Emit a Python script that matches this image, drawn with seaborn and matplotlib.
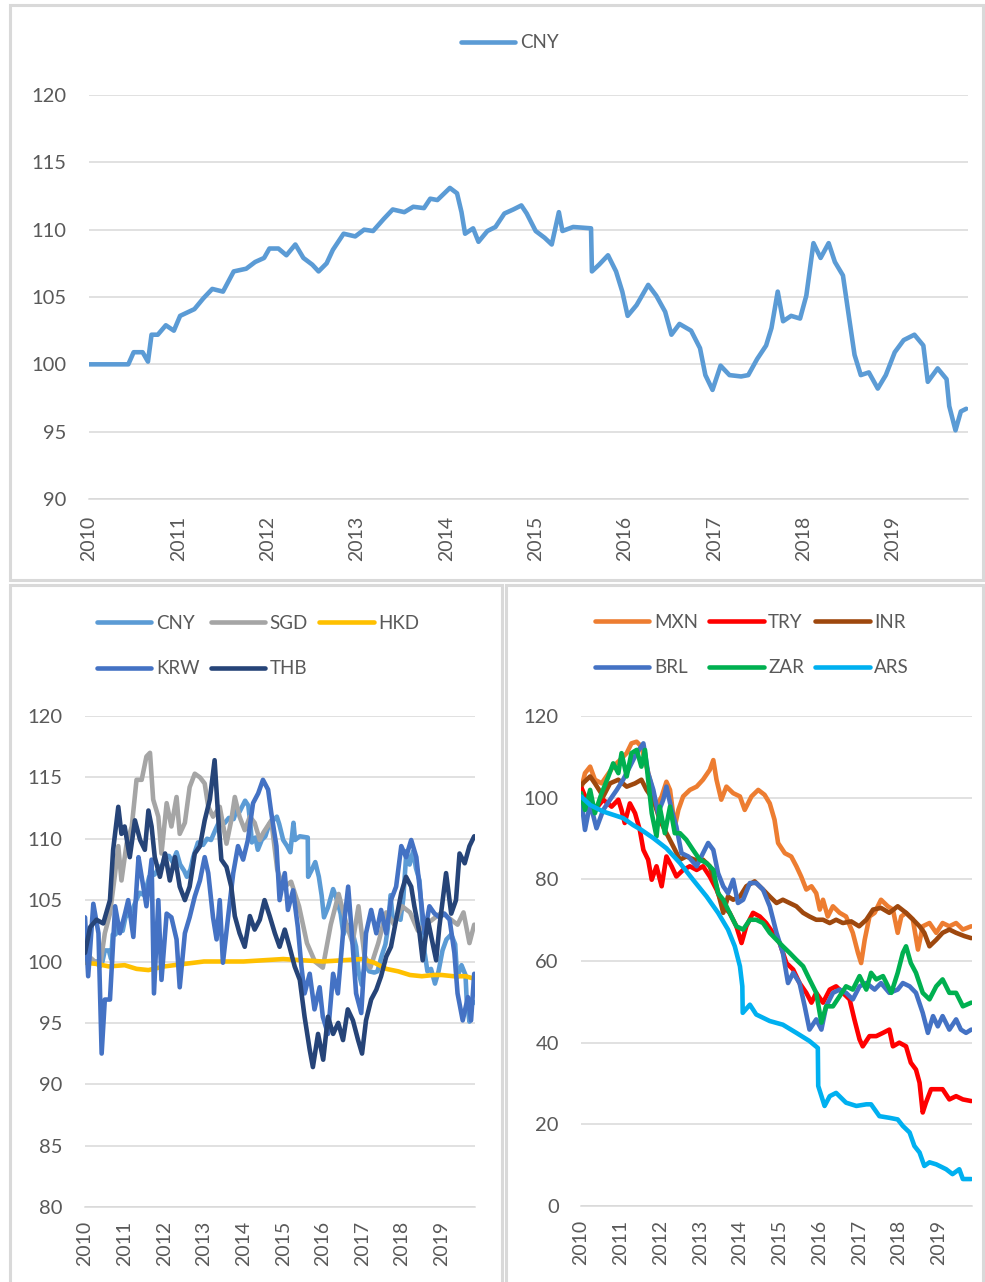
import matplotlib
matplotlib.use("Agg")
import matplotlib.pyplot as plt
import seaborn as sns
from matplotlib.patches import Rectangle

# ---- data (decimal years, index levels) ----
cny_t = [2010.0, 2010.44, 2010.5, 2010.6, 2010.66, 2010.7, 2010.77, 2010.86, 2010.95, 2011.02,
         2011.18, 2011.28, 2011.38, 2011.5, 2011.62, 2011.76, 2011.86, 2011.96, 2012.02, 2012.12,
         2012.21, 2012.31, 2012.4, 2012.5, 2012.57, 2012.66, 2012.73, 2012.85, 2012.98, 2013.08,
         2013.18, 2013.3, 2013.4, 2013.53, 2013.63, 2013.75, 2013.82, 2013.9, 2014.04, 2014.12,
         2014.17, 2014.21, 2014.3, 2014.36, 2014.46, 2014.55, 2014.65, 2014.75, 2014.84, 2014.9,
         2015.0, 2015.1, 2015.18, 2015.22, 2015.26, 2015.3, 2015.42, 2015.62, 2015.63, 2015.71,
         2015.81, 2015.9, 2015.97, 2016.03, 2016.13, 2016.26, 2016.35, 2016.45, 2016.52, 2016.61,
         2016.74, 2016.84, 2016.9, 2016.98, 2017.07, 2017.17, 2017.3, 2017.38, 2017.48, 2017.58,
         2017.64, 2017.71, 2017.77, 2017.86, 2017.96, 2018.03, 2018.11, 2018.19, 2018.28, 2018.35,
         2018.44, 2018.51, 2018.57, 2018.64, 2018.73, 2018.83, 2018.92, 2019.02, 2019.12, 2019.24,
         2019.34, 2019.39, 2019.5, 2019.6, 2019.63, 2019.7, 2019.76, 2019.82]
cny_v = [100.0, 100.0, 100.9, 100.9, 100.2, 102.2, 102.2, 102.9, 102.5, 103.6,
         104.1, 104.9, 105.6, 105.4, 106.9, 107.1, 107.6, 107.9, 108.6, 108.6,
         108.1, 108.9, 107.9, 107.4, 106.9, 107.5, 108.5, 109.7, 109.5, 110.0,
         109.9, 110.8, 111.5, 111.3, 111.7, 111.6, 112.3, 112.2, 113.1, 112.7,
         111.3, 109.7, 110.1, 109.1, 109.9, 110.2, 111.2, 111.5, 111.8, 111.2,
         109.9, 109.4, 108.9, 110.1, 111.3, 109.9, 110.2, 110.1, 106.9, 107.4,
         108.1, 106.9, 105.4, 103.6, 104.4, 105.9, 105.1, 103.9, 102.2, 103.0,
         102.5, 101.2, 99.2, 98.1, 99.9, 99.2, 99.1, 99.2, 100.4, 101.4,
         102.7, 105.4, 103.2, 103.6, 103.4, 105.1, 109.0, 107.9, 109.0, 107.6,
         106.6, 103.4, 100.7, 99.2, 99.4, 98.2, 99.2, 100.9, 101.8, 102.2,
         101.4, 98.7, 99.7, 98.9, 96.9, 95.1, 96.5, 96.7]

sgd_t = [2010.0, 2010.21, 2010.38, 2010.5, 2010.63, 2010.76, 2010.84, 2010.92, 2011.05, 2011.18,
         2011.3, 2011.43, 2011.55, 2011.64, 2011.72, 2011.85, 2011.93, 2012.06, 2012.18, 2012.31,
         2012.39, 2012.52, 2012.64, 2012.77, 2012.9, 2013.02, 2013.11, 2013.23, 2013.4, 2013.57,
         2013.69, 2013.78, 2013.9, 2014.03, 2014.16, 2014.28, 2014.41, 2014.5, 2014.7, 2014.85,
         2015.0, 2015.2, 2015.4, 2015.6, 2015.8, 2016.0, 2016.2, 2016.4, 2016.6, 2016.75,
         2016.9, 2017.05, 2017.2, 2017.4, 2017.6, 2017.8, 2018.0, 2018.2, 2018.4, 2018.6,
         2018.8, 2019.0, 2019.2, 2019.4, 2019.55, 2019.7, 2019.82]
sgd_v = [100.7, 100.1, 99.6, 102.3, 103.9, 107.2, 109.4, 106.6, 109.6, 111.0,
         114.8, 114.8, 116.7, 117.0, 113.2, 111.8, 108.8, 112.9, 111.0, 113.4,
         110.4, 111.3, 114.2, 115.3, 115.0, 114.5, 112.6, 111.8, 112.6, 109.6,
         111.5, 113.4, 111.8, 110.7, 111.8, 111.3, 109.9, 110.5, 111.5, 107.5,
         106.0, 106.5, 104.5, 101.5, 100.0, 99.5, 103.0, 105.5, 103.0, 101.5,
         104.5, 100.5, 99.5, 101.5, 104.0, 103.0, 104.5, 104.0, 102.5, 103.0,
         103.5, 104.0, 103.5, 103.0, 104.0, 101.5, 103.0]

hkd_t = [2010.0, 2010.3, 2010.6, 2011.0, 2011.3, 2011.6, 2012.0, 2012.5, 2013.0, 2013.5,
         2014.0, 2014.5, 2015.0, 2015.5, 2016.0, 2016.5, 2017.0, 2017.3, 2017.6, 2017.9,
         2018.2, 2018.5, 2018.8, 2019.0, 2019.3, 2019.6, 2019.82]
hkd_v = [99.9, 99.8, 99.6, 99.7, 99.4, 99.3, 99.6, 99.8, 100.0, 100.0,
         100.0, 100.1, 100.2, 100.1, 100.0, 100.1, 100.2, 99.9, 99.4, 99.2,
         98.9, 98.8, 98.9, 98.9, 98.8, 98.8, 98.6]

krw_t = [2010.0, 2010.08, 2010.21, 2010.34, 2010.42, 2010.5, 2010.63, 2010.76, 2010.88, 2011.01,
         2011.09, 2011.22, 2011.35, 2011.43, 2011.55, 2011.68, 2011.74, 2011.85, 2011.93, 2012.06,
         2012.18, 2012.31, 2012.39, 2012.52, 2012.64, 2012.77, 2012.9, 2013.02, 2013.11, 2013.23,
         2013.32, 2013.4, 2013.48, 2013.61, 2013.74, 2013.86, 2013.99, 2014.11, 2014.24, 2014.37,
         2014.49, 2014.62, 2014.7, 2014.83, 2014.91, 2015.04, 2015.12, 2015.25, 2015.37, 2015.46,
         2015.54, 2015.67, 2015.79, 2015.92, 2016.0, 2016.13, 2016.26, 2016.38, 2016.51, 2016.64,
         2016.72, 2016.84, 2016.97, 2017.09, 2017.22, 2017.35, 2017.47, 2017.6, 2017.72, 2017.85,
         2017.98, 2018.1, 2018.23, 2018.36, 2018.44, 2018.57, 2018.69, 2018.82, 2018.95, 2019.07,
         2019.2, 2019.32, 2019.4, 2019.53, 2019.66, 2019.74, 2019.82]
krw_v = [103.6, 98.8, 104.7, 102.3, 92.5, 96.9, 96.9, 104.5, 102.3, 103.9,
         105.0, 102.0, 108.5, 106.9, 104.5, 108.3, 97.4, 105.0, 98.5, 103.9,
         103.6, 101.8, 97.9, 102.3, 103.6, 105.3, 106.6, 108.5, 107.2, 103.6,
         101.8, 105.0, 99.9, 103.6, 107.2, 109.4, 108.3, 109.9, 112.9, 113.7,
         114.8, 114.0, 112.1, 109.4, 105.0, 107.2, 104.2, 105.8, 102.8, 99.6,
         97.4, 99.0, 96.1, 97.9, 95.5, 94.1, 99.0, 97.4, 102.3, 106.1,
         102.8, 97.4, 95.8, 102.3, 104.2, 102.3, 104.2, 102.3, 105.0, 106.1,
         109.4, 108.5, 109.9, 108.5, 106.1, 102.3, 104.5, 103.9, 103.6, 103.9,
         103.4, 100.7, 97.4, 95.2, 97.1, 95.2, 99.0]

thb_t = [2010.0, 2010.13, 2010.29, 2010.46, 2010.63, 2010.71, 2010.84, 2010.92, 2011.0, 2011.13,
         2011.26, 2011.39, 2011.51, 2011.6, 2011.68, 2011.76, 2011.89, 2012.02, 2012.14, 2012.27,
         2012.39, 2012.52, 2012.64, 2012.77, 2012.9, 2013.02, 2013.15, 2013.27, 2013.36, 2013.44,
         2013.57, 2013.69, 2013.78, 2013.9, 2014.03, 2014.16, 2014.28, 2014.41, 2014.53, 2014.66,
         2014.79, 2014.91, 2015.04, 2015.16, 2015.29, 2015.42, 2015.54, 2015.67, 2015.75, 2015.88,
         2016.01, 2016.13, 2016.26, 2016.39, 2016.51, 2016.63, 2016.76, 2016.89, 2016.99, 2017.09,
         2017.22, 2017.35, 2017.47, 2017.6, 2017.72, 2017.85, 2017.98, 2018.1, 2018.23, 2018.31,
         2018.44, 2018.52, 2018.65, 2018.77, 2018.86, 2018.94, 2019.11, 2019.24, 2019.36, 2019.45,
         2019.58, 2019.7, 2019.82]
thb_v = [100.7, 102.8, 103.4, 103.1, 105.0, 109.1, 112.6, 110.4, 111.0, 108.5,
         111.5, 109.9, 109.1, 112.3, 111.0, 108.5, 106.9, 108.8, 106.6, 108.5,
         106.1, 105.0, 106.1, 108.8, 109.4, 111.5, 113.2, 116.4, 111.8, 108.3,
         107.7, 106.1, 103.7, 102.3, 101.2, 103.7, 102.6, 103.4, 105.0, 103.7,
         102.3, 101.2, 102.6, 101.2, 99.6, 98.5, 95.5, 92.8, 91.4, 94.1,
         92.0, 95.5, 94.1, 95.0, 93.6, 96.1, 95.2, 93.6, 92.5, 95.2,
         96.9, 97.7, 98.8, 100.4, 101.2, 103.4, 105.6, 106.9, 106.1, 104.5,
         102.3, 100.1, 103.4, 101.5, 100.1, 102.8, 107.2, 103.9, 105.0, 108.8,
         108.0, 109.4, 110.2]

mxn_t = [2010.0, 2010.1, 2010.23, 2010.35, 2010.52, 2010.64, 2010.81, 2010.98, 2011.15, 2011.27,
         2011.4, 2011.52, 2011.65, 2011.78, 2011.9, 2012.03, 2012.15, 2012.24, 2012.36, 2012.45,
         2012.57, 2012.74, 2012.91, 2013.07, 2013.24, 2013.33, 2013.41, 2013.53, 2013.66, 2013.83,
         2014.0, 2014.12, 2014.29, 2014.46, 2014.62, 2014.75, 2014.87, 2014.96, 2015.13, 2015.29,
         2015.42, 2015.54, 2015.67, 2015.8, 2015.92, 2016.01, 2016.09, 2016.21, 2016.34, 2016.51,
         2016.67, 2016.84, 2016.97, 2017.05, 2017.14, 2017.26, 2017.39, 2017.55, 2017.72, 2017.85,
         2017.97, 2018.06, 2018.18, 2018.35, 2018.48, 2018.6, 2018.77, 2018.94, 2019.1, 2019.27,
         2019.44, 2019.61, 2019.82]
mxn_v = [101.9, 106.0, 107.6, 104.4, 103.5, 105.2, 107.6, 109.2, 110.9, 113.3,
         113.7, 112.5, 107.6, 102.7, 97.8, 100.3, 103.9, 101.9, 92.9, 97.0,
         100.3, 101.9, 102.7, 104.4, 106.8, 109.2, 104.4, 99.5, 102.7, 101.1,
         100.3, 97.0, 100.3, 101.9, 100.7, 98.6, 94.6, 88.9, 86.4, 85.6,
         83.2, 80.7, 77.5, 78.3, 76.6, 72.6, 75.0, 70.9, 73.4, 71.8,
         70.9, 66.9, 62.0, 59.5, 65.2, 70.9, 71.8, 75.0, 73.4, 72.6,
         66.9, 70.9, 71.8, 70.2, 62.8, 68.5, 69.3, 66.9, 69.3, 68.5,
         69.3, 67.7, 68.5]

try_t = [2010.0, 2010.14, 2010.35, 2010.56, 2010.77, 2010.94, 2011.02, 2011.1, 2011.23, 2011.36,
         2011.48, 2011.57, 2011.69, 2011.78, 2011.9, 2012.03, 2012.15, 2012.28, 2012.4, 2012.57,
         2012.74, 2012.91, 2013.07, 2013.24, 2013.41, 2013.58, 2013.74, 2013.91, 2014.04, 2014.16,
         2014.33, 2014.5, 2014.66, 2014.83, 2015.0, 2015.17, 2015.34, 2015.5, 2015.67, 2015.8,
         2015.92, 2016.09, 2016.26, 2016.42, 2016.59, 2016.76, 2016.88, 2017.01, 2017.09, 2017.26,
         2017.43, 2017.6, 2017.76, 2017.85, 2018.01, 2018.18, 2018.3, 2018.43, 2018.52, 2018.6,
         2018.68, 2018.81, 2018.94, 2019.1, 2019.27, 2019.44, 2019.61, 2019.82]
try_v = [102.7, 99.5, 97.0, 99.5, 97.8, 99.5, 97.0, 93.8, 98.6, 96.2,
         92.1, 87.2, 84.8, 79.9, 83.2, 78.3, 85.6, 83.2, 80.7, 82.3,
         83.2, 82.3, 83.2, 80.7, 77.5, 73.4, 71.8, 68.5, 64.4, 68.5,
         71.8, 70.9, 69.3, 66.9, 64.4, 59.5, 57.9, 54.6, 52.2, 49.8,
         52.2, 49.8, 53.0, 53.8, 52.2, 50.6, 45.7, 40.8, 39.1, 41.6,
         41.6, 42.4, 43.2, 39.1, 40.0, 39.1, 35.1, 33.4, 30.2, 22.9,
         25.3, 28.6, 28.6, 28.6, 26.1, 26.9, 26.1, 25.7]

inr_t = [2010.0, 2010.23, 2010.35, 2010.56, 2010.73, 2010.94, 2011.15, 2011.36, 2011.52, 2011.65,
         2011.82, 2011.98, 2012.15, 2012.32, 2012.49, 2012.65, 2012.86, 2013.07, 2013.24, 2013.41,
         2013.58, 2013.7, 2013.83, 2014.0, 2014.16, 2014.37, 2014.58, 2014.75, 2014.92, 2015.08,
         2015.25, 2015.42, 2015.59, 2015.75, 2015.92, 2016.09, 2016.26, 2016.42, 2016.59, 2016.8,
         2017.0, 2017.18, 2017.35, 2017.55, 2017.76, 2017.97, 2018.18, 2018.35, 2018.52, 2018.64,
         2018.77, 2018.94, 2019.1, 2019.27, 2019.44, 2019.65, 2019.82]
inr_v = [103.1, 105.2, 103.5, 100.3, 103.5, 104.4, 102.7, 103.5, 104.4, 101.9,
         99.5, 94.6, 91.3, 88.1, 84.8, 85.6, 84.8, 84.8, 83.2, 78.3,
         71.8, 75.8, 75.0, 75.8, 78.3, 79.5, 77.5, 75.8, 74.2, 75.0,
         74.2, 73.4, 71.8, 70.9, 70.1, 70.1, 69.3, 70.1, 69.3, 69.7,
         68.5, 70.1, 72.6, 73.0, 71.8, 73.4, 71.8, 70.2, 68.5, 66.9,
         63.6, 65.2, 66.9, 67.7, 66.9, 66.1, 65.6]

brl_t = [2010.0, 2010.1, 2010.23, 2010.39, 2010.56, 2010.73, 2010.9, 2011.06, 2011.23, 2011.4,
         2011.57, 2011.69, 2011.82, 2011.94, 2012.07, 2012.15, 2012.28, 2012.4, 2012.53, 2012.7,
         2012.91, 2013.07, 2013.2, 2013.33, 2013.45, 2013.58, 2013.7, 2013.83, 2013.95, 2014.08,
         2014.25, 2014.41, 2014.58, 2014.75, 2014.92, 2015.08, 2015.21, 2015.34, 2015.5, 2015.63,
         2015.75, 2015.92, 2016.05, 2016.17, 2016.34, 2016.51, 2016.67, 2016.84, 2017.01, 2017.18,
         2017.39, 2017.55, 2017.76, 2017.97, 2018.1, 2018.27, 2018.43, 2018.6, 2018.73, 2018.86,
         2018.98, 2019.1, 2019.27, 2019.44, 2019.56, 2019.69, 2019.82]
brl_v = [100.3, 92.1, 98.6, 92.5, 97.0, 99.5, 101.9, 104.4, 107.6, 110.9,
         113.3, 106.0, 101.9, 96.2, 99.5, 102.7, 97.0, 92.9, 86.4, 85.6,
         83.2, 86.4, 88.9, 87.2, 81.5, 78.3, 76.6, 79.9, 74.2, 75.0,
         79.1, 79.1, 77.5, 73.4, 66.9, 62.0, 54.6, 57.1, 54.6, 48.9,
         43.2, 45.7, 43.2, 48.9, 52.2, 53.0, 52.2, 50.6, 53.8, 54.6,
         53.0, 54.6, 52.2, 53.0, 54.6, 53.8, 52.2, 47.3, 42.4, 46.5,
         44.0, 46.5, 43.2, 45.7, 43.2, 42.4, 43.2]

zar_t = [2010.0, 2010.1, 2010.23, 2010.35, 2010.52, 2010.69, 2010.81, 2010.94, 2011.02, 2011.15,
         2011.27, 2011.4, 2011.52, 2011.61, 2011.69, 2011.78, 2011.9, 2011.98, 2012.11, 2012.24,
         2012.36, 2012.49, 2012.65, 2012.82, 2012.99, 2013.16, 2013.33, 2013.45, 2013.58, 2013.74,
         2013.91, 2014.08, 2014.25, 2014.41, 2014.58, 2014.75, 2014.92, 2015.08, 2015.25, 2015.42,
         2015.59, 2015.75, 2015.92, 2016.05, 2016.17, 2016.34, 2016.51, 2016.67, 2016.84, 2017.01,
         2017.18, 2017.3, 2017.43, 2017.6, 2017.81, 2017.97, 2018.1, 2018.18, 2018.3, 2018.43,
         2018.6, 2018.77, 2018.94, 2019.1, 2019.27, 2019.44, 2019.61, 2019.82]
zar_v = [101.1, 97.0, 101.9, 96.2, 101.1, 105.2, 108.4, 106.0, 110.9, 105.2,
         110.9, 111.7, 107.6, 111.7, 104.4, 96.2, 90.5, 97.8, 91.3, 97.8,
         91.3, 91.3, 89.7, 87.2, 84.8, 84.0, 82.3, 76.6, 75.0, 71.8,
         68.5, 67.7, 70.1, 70.1, 69.3, 66.9, 65.2, 63.6, 62.0, 60.3,
         58.7, 55.5, 52.2, 44.9, 48.9, 48.9, 51.4, 53.8, 53.0, 56.3,
         53.0, 57.1, 55.5, 56.3, 52.2, 57.1, 62.0, 63.6, 59.5, 57.1,
         52.2, 50.6, 53.8, 55.5, 52.2, 52.2, 48.9, 49.8]

ars_t = [2010.0, 2010.23, 2010.56, 2010.81, 2011.06, 2011.31, 2011.52, 2011.82, 2012.15, 2012.49,
         2012.82, 2013.16, 2013.45, 2013.7, 2013.87, 2014.0, 2014.06, 2014.07, 2014.25, 2014.41,
         2014.75, 2015.08, 2015.42, 2015.75, 2015.96, 2015.97, 2016.13, 2016.26, 2016.42, 2016.67,
         2016.93, 2017.18, 2017.3, 2017.51, 2017.76, 2017.97, 2018.1, 2018.27, 2018.39, 2018.52,
         2018.64, 2018.77, 2018.94, 2019.19, 2019.35, 2019.52, 2019.61, 2019.82]
ars_v = [100.3, 98.2, 96.6, 95.8, 95.0, 93.3, 92.1, 90.1, 87.6, 84.0,
         79.9, 75.8, 71.8, 67.7, 63.6, 58.7, 53.8, 47.3, 49.3, 46.9,
         45.3, 44.4, 42.4, 40.4, 38.7, 29.4, 24.5, 26.9, 27.7, 25.3,
         24.5, 24.9, 24.9, 22.0, 21.6, 21.2, 19.6, 18.0, 14.7, 13.1,
         9.8, 10.7, 10.2, 9.0, 7.8, 9.0, 6.6, 6.6]

years = list(range(2010, 2020))
year_labels = [str(y) for y in years]

grey_txt = "#595959"
grid_c = "#D9D9D9"

sns.set_style("white")
plt.rcParams['font.family'] = ['Lato', 'DejaVu Sans']

W, H = 985, 1282
fig = plt.figure(figsize=(W / 100, H / 100), dpi=100)


def box(x0, y0, x1, y1):
    # pixel box -> figure fraction [left, bottom, width, height]
    return [x0 / W, 1 - y1 / H, (x1 - x0) / W, (y1 - y0) / H]


def frame(x0, y0, x1, y1):
    fig.add_artist(Rectangle((x0 / W, 1 - y1 / H), (x1 - x0) / W, (y1 - y0) / H,
                             transform=fig.transFigure, fill=False, ec=grid_c, lw=2.2))


def style(ax, ylim, yticks, xpad):
    ax.set_xlim(2010, 2019.84)
    ax.set_ylim(*ylim)
    ax.set_yticks(yticks)
    ax.set_xticks(years)
    ax.set_xticklabels(year_labels, rotation=90)
    ax.grid(axis='y', color=grid_c, lw=1.1)
    ax.grid(axis='x', visible=False)
    for s in ['top', 'right', 'left']:
        ax.spines[s].set_visible(False)
    ax.spines['bottom'].set_color(grid_c)
    ax.spines['bottom'].set_linewidth(1.1)
    ax.tick_params(axis='y', length=0, pad=16, labelsize=14.5, labelcolor=grey_txt)
    ax.tick_params(axis='x', length=6, width=1, color=grid_c, direction='in', pad=xpad,
                   labelsize=14, labelcolor=grey_txt)
    ax.set_xlabel("")
    ax.set_ylabel("")


def draw(ax, t, v, color, name):
    sns.lineplot(x=t, y=v, ax=ax, color=color, linewidth=3.3, label=name,
                 estimator=None, sort=False)


def legend(ax, order, cx, cy, ncol):
    h, l = ax.get_legend_handles_labels()
    lookup = dict(zip(l, h))
    ax.legend([lookup[n] for n in order], order, ncol=ncol, loc='center',
              bbox_to_anchor=(cx / W, 1 - cy / H), bbox_transform=fig.transFigure,
              frameon=False, fontsize=13.5, handlelength=2.9, handletextpad=0.25,
              columnspacing=0.6, labelspacing=1.5, labelcolor=grey_txt)


frame(10, 5, 983, 580)
frame(10, 585, 502, 1290)
frame(506, 585, 983, 1290)

# top panel
ax1 = fig.add_axes(box(89, 95, 968, 499))
draw(ax1, cny_t, cny_v, "#5B9BD5", "CNY")
style(ax1, (90, 120), range(90, 121, 5), 12)
legend(ax1, ["CNY"], 510, 43, 1)

# bottom-left: Asian currencies
ax2 = fig.add_axes(box(85, 716, 475, 1207))
draw(ax2, cny_t, cny_v, "#5B9BD5", "CNY")
draw(ax2, sgd_t, sgd_v, "#A5A5A5", "SGD")
draw(ax2, hkd_t, hkd_v, "#FFC000", "HKD")
draw(ax2, krw_t, krw_v, "#4472C4", "KRW")
draw(ax2, thb_t, thb_v, "#264478", "THB")
style(ax2, (80, 120), range(80, 121, 5), 10)
legend(ax2, ["CNY", "KRW", "SGD", "THB", "HKD"], 258, 646, 3)

# bottom-right: other emerging currencies
ax3 = fig.add_axes(box(581, 716, 972, 1206))
draw(ax3, mxn_t, mxn_v, "#ED7D31", "MXN")
draw(ax3, try_t, try_v, "#FF0000", "TRY")
draw(ax3, inr_t, inr_v, "#9E480E", "INR")
draw(ax3, brl_t, brl_v, "#4472C4", "BRL")
draw(ax3, zar_t, zar_v, "#00B050", "ZAR")
draw(ax3, ars_t, ars_v, "#00B0F0", "ARS")
style(ax3, (0, 120), range(0, 121, 20), 10)
legend(ax3, ["MXN", "BRL", "TRY", "ZAR", "INR", "ARS"], 752, 645, 3)

fig.savefig("out.png", dpi=100)
